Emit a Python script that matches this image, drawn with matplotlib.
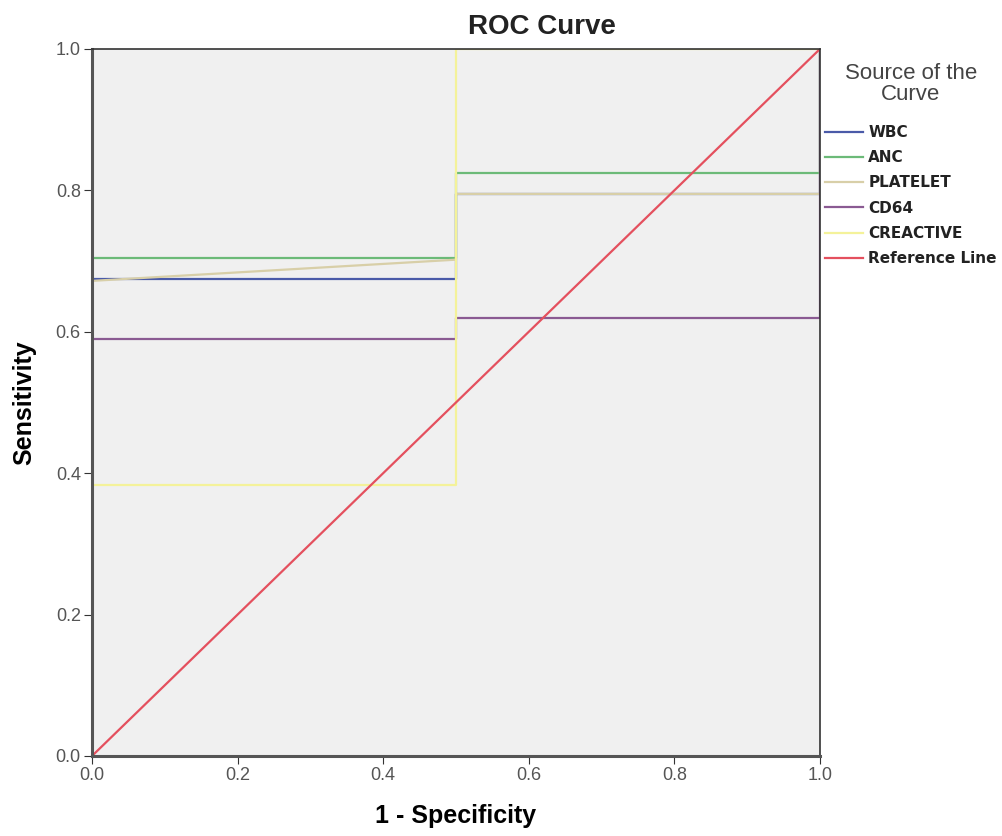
import matplotlib
matplotlib.use('Agg')
import matplotlib.pyplot as plt

plt.rcParams['font.family'] = ['Liberation Sans', 'DejaVu Sans']

# ROC curve points (1 - specificity, sensitivity)
wbc_x = [0, 0, 0.5, 0.5, 1, 1]
wbc_y = [0, 0.675, 0.675, 0.795, 0.795, 1]
anc_x = [0, 0, 0.5, 0.5, 1, 1]
anc_y = [0, 0.705, 0.705, 0.825, 0.825, 1]
plt_x = [0, 0, 0.5, 0.5, 1, 1]
plt_y = [0, 0.672, 0.702, 0.795, 0.795, 1]
cd64_x = [0, 0, 0.5, 0.5, 1, 1]
cd64_y = [0, 0.59, 0.59, 0.62, 0.62, 1]
crp_x = [0, 0, 0.5, 0.5, 1]
crp_y = [0, 0.383, 0.383, 1, 1]
ref_x = [0, 1]
ref_y = [0, 1]

names = ['WBC', 'ANC', 'PLATELET', 'CD64', 'CREACTIVE', 'Reference Line']
colors = ['#4a5aa8', '#6cba78', '#d8cfa8', '#8a5a92', '#f4f29a', '#e4505e']
ticks = [0.0, 0.2, 0.4, 0.6, 0.8, 1.0]

fig = plt.figure(figsize=(10.03, 8.36), dpi=100)
ax = fig.add_axes([0.0917, 0.0957, 0.7258, 0.8457])
ax.set_facecolor('#f0f0f0')

series = [(wbc_x, wbc_y), (anc_x, anc_y), (plt_x, plt_y),
          (cd64_x, cd64_y), (crp_x, crp_y), (ref_x, ref_y)]
for (xs, ys), name, c in zip(series, names, colors):
    ax.plot(xs, ys, color=c, linewidth=1.6, label=name)

ax.set_xlim(0, 1)
ax.set_ylim(0, 1)
ax.set_xticks(ticks)
ax.set_yticks(ticks)
ax.set_xticklabels(['%.1f' % t for t in ticks])
ax.set_yticklabels(['%.1f' % t for t in ticks])
ax.tick_params(labelsize=13, labelcolor='#555555', color='#333333', length=6, pad=2)

for side in ['left', 'bottom']:
    ax.spines[side].set_linewidth(2.2)
    ax.spines[side].set_color('#555555')
for side in ['top', 'right']:
    ax.spines[side].set_linewidth(1.2)
    ax.spines[side].set_color('#333333')

ax.set_xlabel('1 - Specificity', fontsize=18, fontweight='bold', labelpad=14)
ax.set_ylabel('Sensitivity', fontsize=18, fontweight='bold', labelpad=14)
fig.text(0.54, 0.968, 'ROC Curve', ha='center', va='center',
         fontsize=20, fontweight='bold', color='#222222')

fig.text(0.908, 0.8995, 'Source of the\nCurve', ha='center', va='center',
         fontsize=16, color='#444444', linespacing=1.05)
leg = ax.legend(loc='upper left', bbox_to_anchor=(0.8225, 0.8505),
                bbox_transform=fig.transFigure, frameon=False,
                handlelength=2.5, handletextpad=0.33, labelspacing=0.67,
                borderpad=0, borderaxespad=0,
                prop={'size': 11, 'weight': 'bold', 'family': 'DejaVu Sans Condensed'})
for t in leg.get_texts():
    t.set_color('#222222')

plt.savefig('out.png')
